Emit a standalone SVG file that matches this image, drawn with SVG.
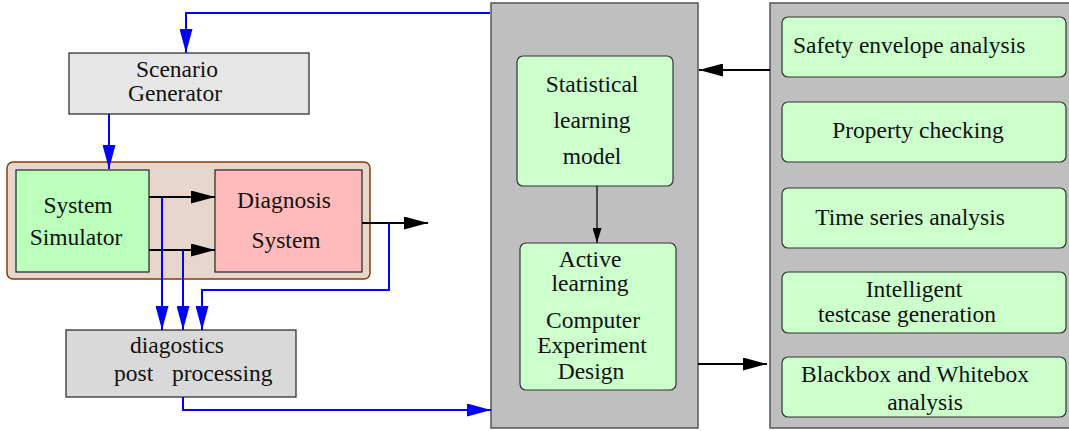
<svg xmlns="http://www.w3.org/2000/svg" width="1069" height="431" viewBox="0 0 1069 431">
  <style>
    text { font-family: "Liberation Serif", "Times New Roman", serif; font-size: 23.5px; fill: #111; }
    .mid { text-anchor: middle; }
    .box { stroke: #222; stroke-width: 1.2; }
    .panel { fill: #bfbfbf; stroke: #555; stroke-width: 1.5; }
    .leaf { fill: #ccffcc; stroke: #333; stroke-width: 1.2; }
    .blue { fill: none; stroke: #0000ff; stroke-width: 2; }
    .black { fill: none; stroke: #000; stroke-width: 2; }
    .thin { fill: none; stroke: #000; stroke-width: 1.2; }
  </style>
  <defs>
    <marker id="arrowBlue" markerUnits="userSpaceOnUse" markerWidth="24" markerHeight="13" refX="24" refY="6.5" orient="auto">
      <path d="M0,0 L24,6.5 L0,13 z" fill="#0000ff"/>
    </marker>
    <marker id="arrowBlack" markerUnits="userSpaceOnUse" markerWidth="24" markerHeight="13" refX="24" refY="6.5" orient="auto">
      <path d="M0,0 L24,6.5 L0,13 z" fill="#000"/>
    </marker>
    <marker id="arrowSmall" markerUnits="userSpaceOnUse" markerWidth="15" markerHeight="9" refX="15" refY="4.5" orient="auto">
      <path d="M0,0 L15,4.5 L0,9 z" fill="#000"/>
    </marker>
  </defs>

  <!-- container panels -->
  <g id="simulation-loop">
    <rect x="7" y="162" width="363" height="117" rx="6" fill="#e6d6cc" stroke="#8b3a0a" stroke-width="1.5"/>
  </g>
  <g id="learning-panel">
    <rect class="panel" x="491" y="3" width="207" height="425"/>
  </g>
  <g id="analysis-panel">
    <rect class="panel" x="770" y="3" width="320" height="425"/>
  </g>

  <!-- left-hand nodes -->
  <g id="scenario-generator">
    <rect class="box" x="69" y="53" width="240" height="61" fill="#e6e6e6"/>
    <text class="mid" x="177" y="77">Scenario</text>
    <text class="mid" x="175" y="101">Generator</text>
  </g>
  <g id="system-simulator">
    <rect class="box" x="16" y="170" width="133" height="102" fill="#bbffbb"/>
    <text class="mid" x="78" y="213">System</text>
    <text class="mid" x="76" y="245">Simulator</text>
  </g>
  <g id="diagnosis-system">
    <rect class="box" x="215" y="170" width="147" height="102" fill="#ffbbbb"/>
    <text class="mid" x="284" y="208">Diagnosis</text>
    <text class="mid" x="286" y="248">System</text>
  </g>
  <g id="post-processing">
    <rect class="box" x="66" y="330" width="230" height="67" fill="#d9d9d9"/>
    <text class="mid" x="177" y="353">diagostics</text>
    <text x="114" y="381">post</text>
    <text x="172" y="381">processing</text>
  </g>

  <!-- learning nodes -->
  <g id="statistical-model">
    <rect class="leaf" x="517" y="56" width="156" height="130" rx="6"/>
    <text class="mid" x="592" y="92">Statistical</text>
    <text class="mid" x="592" y="128">learning</text>
    <text class="mid" x="592" y="164">model</text>
  </g>
  <g id="active-learning">
    <rect class="leaf" x="520" y="243" width="156" height="147" rx="6"/>
    <text class="mid" x="590" y="267">Active</text>
    <text class="mid" x="590" y="291">learning</text>
    <text class="mid" x="593" y="328">Computer</text>
    <text class="mid" x="592" y="353">Experiment</text>
    <text class="mid" x="591" y="379">Design</text>
  </g>

  <!-- analysis nodes -->
  <g id="safety-envelope">
    <rect class="leaf" x="782" y="17" width="284" height="60" rx="6"/>
    <text x="793" y="53">Safety envelope analysis</text>
  </g>
  <g id="property-checking">
    <rect class="leaf" x="782" y="102" width="284" height="60" rx="6"/>
    <text class="mid" x="918" y="138">Property checking</text>
  </g>
  <g id="time-series">
    <rect class="leaf" x="782" y="188" width="284" height="60" rx="6"/>
    <text class="mid" x="910" y="225">Time series analysis</text>
  </g>
  <g id="testcase-generation">
    <rect class="leaf" x="782" y="272" width="284" height="61" rx="6"/>
    <text class="mid" x="914" y="297">Intelligent</text>
    <text class="mid" x="907" y="322">testcase generation</text>
  </g>
  <g id="box-analysis">
    <rect class="leaf" x="782" y="357" width="284" height="60" rx="6"/>
    <text class="mid" x="915" y="382">Blackbox and Whitebox</text>
    <text class="mid" x="925" y="410">analysis</text>
  </g>

  <!-- connectors -->
  <g id="connectors">
    <path class="blue" d="M490,13 H186 V53" marker-end="url(#arrowBlue)"/>
    <path class="blue" d="M109,114 V169" marker-end="url(#arrowBlue)"/>
    <path class="black" d="M149,197 H215" marker-end="url(#arrowBlack)"/>
    <path class="black" d="M149,250 H215" marker-end="url(#arrowBlack)"/>
    <path class="black" d="M362,223 H428" marker-end="url(#arrowBlack)"/>
    <path class="blue" d="M162,197 V330" marker-end="url(#arrowBlue)"/>
    <path class="blue" d="M183,250 V330" marker-end="url(#arrowBlue)"/>
    <path class="blue" d="M389,223 V290 H202 V330" marker-end="url(#arrowBlue)"/>
    <path class="blue" d="M183,397 V410 H491" marker-end="url(#arrowBlue)"/>
    <path class="thin" d="M597,186 V243" marker-end="url(#arrowSmall)"/>
    <path class="black" d="M770,70 H699" marker-end="url(#arrowBlack)"/>
    <path class="black" d="M698,364 H767" marker-end="url(#arrowBlack)"/>
  </g>
</svg>
